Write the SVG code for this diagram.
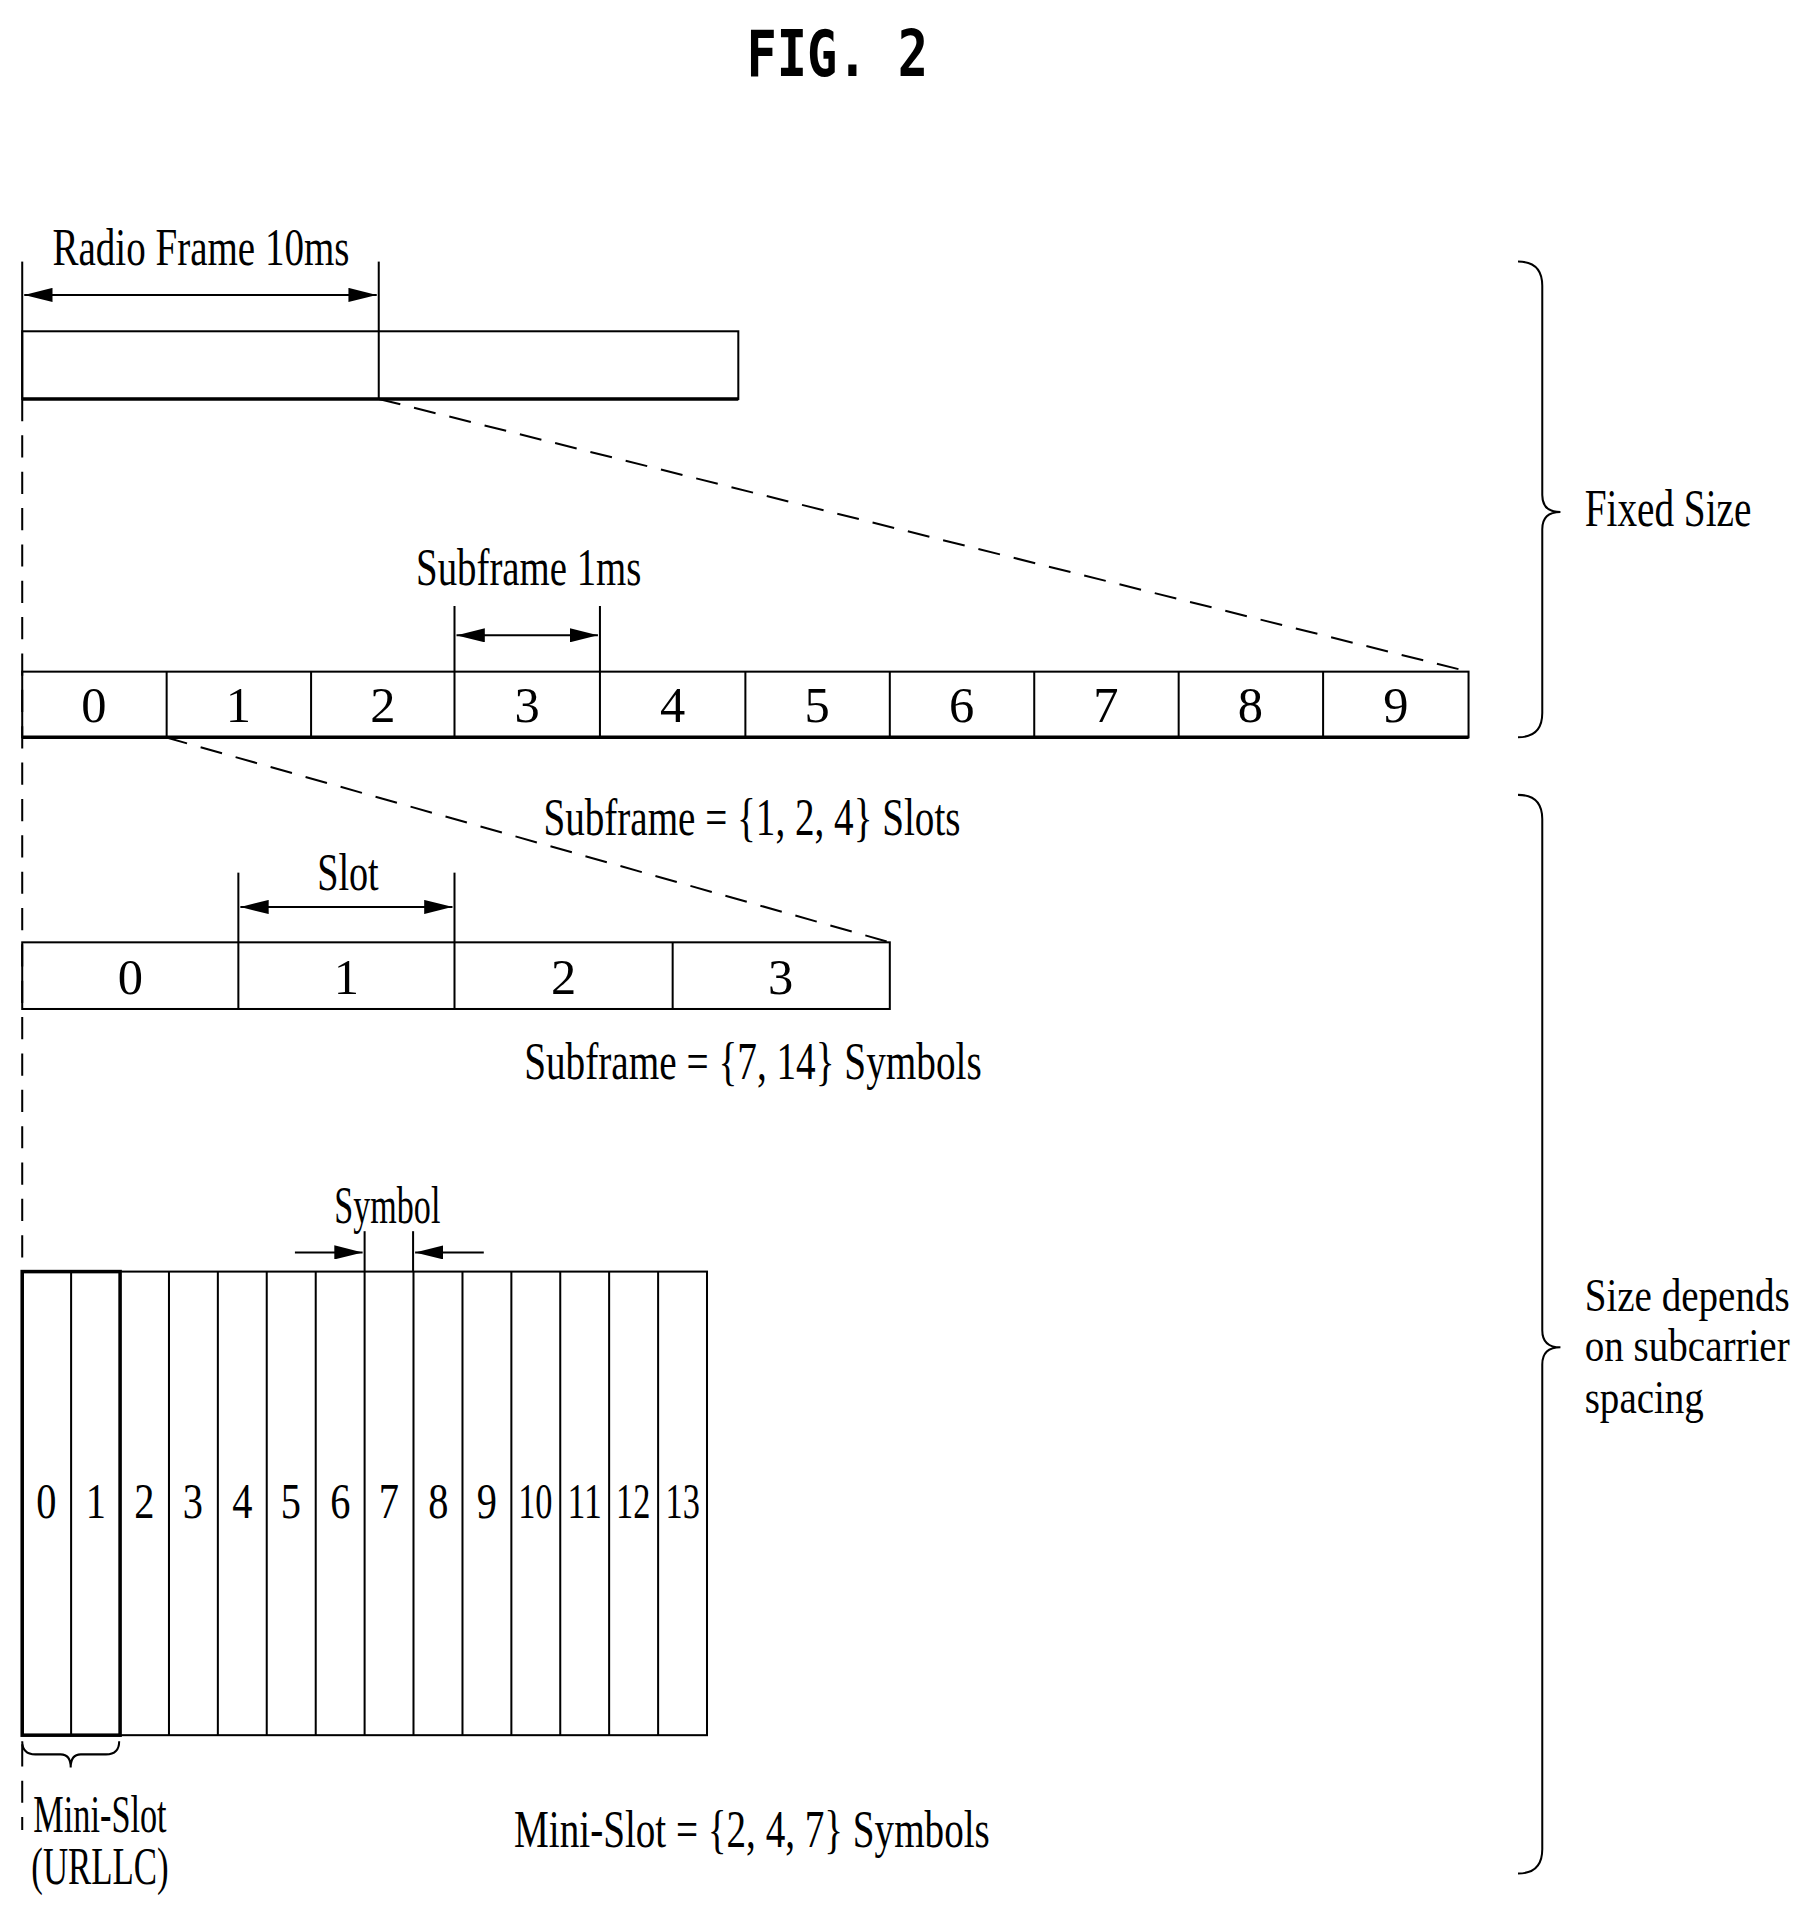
<svg xmlns="http://www.w3.org/2000/svg" width="1810" height="1911" viewBox="0 0 1810 1911">
<style>
.ln{stroke:#000;stroke-width:2;fill:none}
.bd{stroke:#000;stroke-width:3.5;fill:none}
.ds{stroke:#000;stroke-width:2;fill:none;stroke-dasharray:22 14}
.t{font-family:"Liberation Serif",serif;font-size:52px;fill:#000}
.s{font-family:"Liberation Serif",serif;font-size:46px;fill:#000}
.n{font-family:"Liberation Serif",serif;font-size:50px;fill:#000;text-anchor:middle}
</style>
<defs>
<marker id="ah2" viewBox="0 0 10 10" refX="10" refY="5" markerWidth="28" markerHeight="14" markerUnits="userSpaceOnUse" orient="auto-start-reverse" preserveAspectRatio="none"><path d="M0,0 L10,5 L0,10 Z" fill="#000"/></marker>
</defs>
<g transform="scale(1.01)">
<text x="829" y="75" text-anchor="middle" font-family="DejaVu Sans Mono,monospace" font-weight="bold" font-size="64" textLength="180" lengthAdjust="spacingAndGlyphs">FIG. 2</text>

<g id="connectors">
<line class="ds" x1="22" y1="395" x2="22" y2="1812"/>
<line class="ln" x1="22" y1="259" x2="22" y2="395"/>
<line class="ds" x1="375" y1="395" x2="1454" y2="665"/>
<line class="ds" x1="164" y1="730" x2="881" y2="933"/>
</g>

<g id="radio-frame">
<line class="ln" x1="375" y1="259" x2="375" y2="328"/>
<line class="ln" x1="24" y1="292" x2="373" y2="292" marker-start="url(#ah2)" marker-end="url(#ah2)"/>
<text class="t" x="52" y="262" textLength="294" lengthAdjust="spacingAndGlyphs">Radio Frame 10ms</text>
<rect class="ln" x="22" y="328" width="709" height="67"/>
<line class="ln" x1="375" y1="328" x2="375" y2="395"/>
<line class="bd" x1="22" y1="395" x2="731" y2="395"/>
</g>

<g id="subframes">
<text class="t" x="412" y="579" textLength="223" lengthAdjust="spacingAndGlyphs">Subframe 1ms</text>
<line class="ln" x1="450" y1="600" x2="450" y2="665"/>
<line class="ln" x1="594" y1="600" x2="594" y2="665"/>
<line class="ln" x1="452" y1="629" x2="592" y2="629" marker-start="url(#ah2)" marker-end="url(#ah2)"/>
<rect class="ln" x="22" y="665" width="1432" height="65"/>
<line class="bd" x1="22" y1="730" x2="1454" y2="730"/>
<g class="ln">
<line x1="165" y1="665" x2="165" y2="730"/><line x1="308" y1="665" x2="308" y2="730"/><line x1="450" y1="665" x2="450" y2="730"/><line x1="594" y1="665" x2="594" y2="730"/><line x1="738" y1="665" x2="738" y2="730"/><line x1="881" y1="665" x2="881" y2="730"/><line x1="1024" y1="665" x2="1024" y2="730"/><line x1="1167" y1="665" x2="1167" y2="730"/><line x1="1310" y1="665" x2="1310" y2="730"/>
</g>
<text class="n" x="93" y="715">0</text><text class="n" x="236" y="715">1</text><text class="n" x="379" y="715">2</text><text class="n" x="522" y="715">3</text><text class="n" x="666" y="715">4</text><text class="n" x="809" y="715">5</text><text class="n" x="952" y="715">6</text><text class="n" x="1095" y="715">7</text><text class="n" x="1238" y="715">8</text><text class="n" x="1382" y="715">9</text>
<text class="t" x="538" y="827" textLength="413" lengthAdjust="spacingAndGlyphs">Subframe = {1, 2, 4} Slots</text>
</g>

<g id="slots">
<text class="t" x="314" y="881" textLength="61" lengthAdjust="spacingAndGlyphs">Slot</text>
<line class="ln" x1="236" y1="864" x2="236" y2="933"/>
<line class="ln" x1="450" y1="864" x2="450" y2="933"/>
<line class="ln" x1="238" y1="898" x2="448" y2="898" marker-start="url(#ah2)" marker-end="url(#ah2)"/>
<rect class="ln" x="22" y="933" width="859" height="66"/>
<line class="ln" x1="236" y1="933" x2="236" y2="999"/><line class="ln" x1="450" y1="933" x2="450" y2="999"/><line class="ln" x1="666" y1="933" x2="666" y2="999"/>
<text class="n" x="129" y="984">0</text><text class="n" x="343" y="984">1</text><text class="n" x="558" y="984">2</text><text class="n" x="773" y="984">3</text>
<text class="t" x="519" y="1068" textLength="453" lengthAdjust="spacingAndGlyphs">Subframe = {7, 14} Symbols</text>
</g>

<g id="symbols">
<text class="t" x="331" y="1211" textLength="105" lengthAdjust="spacingAndGlyphs">Symbol</text>
<line class="ln" x1="361" y1="1219" x2="361" y2="1259"/>
<line class="ln" x1="409" y1="1219" x2="409" y2="1259"/>
<line class="ln" x1="292" y1="1240" x2="359" y2="1240" marker-end="url(#ah2)"/>
<line class="ln" x1="479" y1="1240" x2="411" y2="1240" marker-end="url(#ah2)"/>
<rect class="ln" x="22" y="1259" width="678" height="459"/>
<g class="ln">
<line x1="70.4" y1="1259" x2="70.4" y2="1718"/><line x1="167.3" y1="1259" x2="167.3" y2="1718"/><line x1="215.7" y1="1259" x2="215.7" y2="1718"/><line x1="264.1" y1="1259" x2="264.1" y2="1718"/><line x1="312.6" y1="1259" x2="312.6" y2="1718"/><line x1="361" y1="1259" x2="361" y2="1718"/><line x1="409.4" y1="1259" x2="409.4" y2="1718"/><line x1="457.9" y1="1259" x2="457.9" y2="1718"/><line x1="506.3" y1="1259" x2="506.3" y2="1718"/><line x1="554.7" y1="1259" x2="554.7" y2="1718"/><line x1="603.1" y1="1259" x2="603.1" y2="1718"/><line x1="651.6" y1="1259" x2="651.6" y2="1718"/>
</g>
<rect class="bd" x="22" y="1259" width="96.9" height="459"/>
<g class="n">
<text x="46" y="1503" textLength="20" lengthAdjust="spacingAndGlyphs">0</text><text x="95" y="1503" textLength="20" lengthAdjust="spacingAndGlyphs">1</text><text x="143" y="1503" textLength="20" lengthAdjust="spacingAndGlyphs">2</text><text x="191" y="1503" textLength="20" lengthAdjust="spacingAndGlyphs">3</text><text x="240" y="1503" textLength="20" lengthAdjust="spacingAndGlyphs">4</text><text x="288" y="1503" textLength="20" lengthAdjust="spacingAndGlyphs">5</text><text x="337" y="1503" textLength="20" lengthAdjust="spacingAndGlyphs">6</text><text x="385" y="1503" textLength="20" lengthAdjust="spacingAndGlyphs">7</text><text x="434" y="1503" textLength="20" lengthAdjust="spacingAndGlyphs">8</text><text x="482" y="1503" textLength="20" lengthAdjust="spacingAndGlyphs">9</text><text x="530" y="1503" textLength="34" lengthAdjust="spacingAndGlyphs">10</text><text x="579" y="1503" textLength="34" lengthAdjust="spacingAndGlyphs">11</text><text x="627" y="1503" textLength="34" lengthAdjust="spacingAndGlyphs">12</text><text x="676" y="1503" textLength="34" lengthAdjust="spacingAndGlyphs">13</text>
</g>
<path class="ln" d="M22,1724 Q22,1737 35,1737 L60,1737 Q70,1737 70,1750 Q70,1737 80,1737 L105,1737 Q118,1737 118,1724"/>
<text class="t" x="33" y="1814" textLength="132" lengthAdjust="spacingAndGlyphs">Mini-Slot</text>
<text class="t" x="31" y="1865" textLength="136" lengthAdjust="spacingAndGlyphs">(URLLC)</text>
<text class="t" x="509" y="1829" textLength="471" lengthAdjust="spacingAndGlyphs">Mini-Slot = {2, 4, 7} Symbols</text>
</g>

<g id="brace-fixed">
<path class="ln" d="M1503,259 Q1527,259 1527,283 L1527,490 Q1527,507 1545,507 Q1527,507 1527,524 L1527,706 Q1527,730 1503,730"/>
<text class="t" x="1569" y="521" textLength="165" lengthAdjust="spacingAndGlyphs">Fixed Size</text>
</g>

<g id="brace-variable">
<path class="ln" d="M1503,787 Q1527,787 1527,811 L1527,1317 Q1527,1334 1545,1334 Q1527,1334 1527,1351 L1527,1831 Q1527,1855 1503,1855"/>
<text class="s" x="1569" y="1298" textLength="203" lengthAdjust="spacingAndGlyphs">Size depends</text>
<text class="s" x="1569" y="1348" textLength="203" lengthAdjust="spacingAndGlyphs">on subcarrier</text>
<text class="s" x="1569" y="1399" textLength="118" lengthAdjust="spacingAndGlyphs">spacing</text>
</g>
</g>
</svg>
